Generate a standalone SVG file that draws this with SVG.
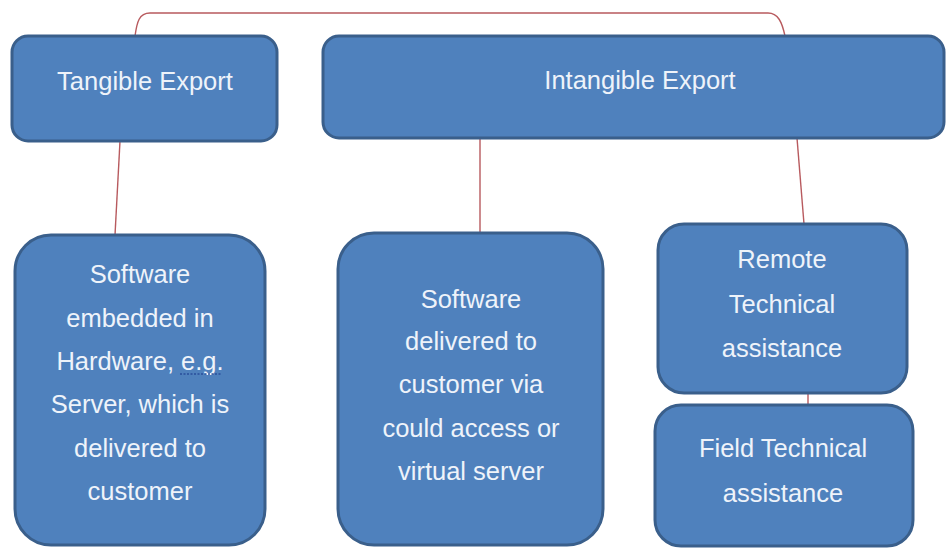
<svg xmlns="http://www.w3.org/2000/svg" width="946" height="548" viewBox="0 0 946 548">
  <style>
    .box { fill: #4f81bd; stroke: #3a5f8b; stroke-width: 3; }
    .lbl { font-family: "Liberation Sans", Arial, sans-serif; font-size: 25.5px; fill: #eef3fa; text-anchor: middle; }
    .link { fill: none; stroke: #b85a5e; stroke-width: 1.4; }
  </style>
  <rect width="946" height="548" fill="#ffffff"/>

  <g id="connectors">
    <path class="link" d="M135,36 C137,22 139,13 150,13 L768,13 C778,13 782,22 785,36"/>
    <path class="link" d="M120,141 L115,235"/>
    <path class="link" d="M480,138 L480,233"/>
    <path class="link" d="M797,138 L804,224"/>
    <path class="link" d="M808,393 L808,405"/>
  </g>

  <g id="tangible">
    <rect class="box" x="12" y="36" width="265" height="105" rx="16"/>
    <text class="lbl" x="145" y="90">Tangible Export</text>
  </g>

  <g id="intangible">
    <rect class="box" x="323" y="36" width="621" height="102" rx="16"/>
    <text class="lbl" x="640" y="89">Intangible Export</text>
  </g>

  <g id="embedded">
    <rect class="box" x="15" y="235" width="250" height="310" rx="36"/>
    <text class="lbl" x="140" y="283">Software</text>
    <text class="lbl" x="140" y="327">embedded in</text>
    <text class="lbl" x="140" y="370">Hardware, e.g.</text>
    <text class="lbl" x="140" y="413">Server, which is</text>
    <text class="lbl" x="140" y="457">delivered to</text>
    <text class="lbl" x="140" y="500">customer</text>
    <!-- dotted proofing mark under "e.g." -->
    <line x1="180" y1="374" x2="222" y2="374" stroke="#2a4f9a" stroke-width="1.4" stroke-dasharray="2 1.5"/>
  </g>

  <g id="cloud">
    <rect class="box" x="338" y="233" width="265" height="312" rx="36"/>
    <text class="lbl" x="471" y="308">Software</text>
    <text class="lbl" x="471" y="350">delivered to</text>
    <text class="lbl" x="471" y="393">customer via</text>
    <text class="lbl" x="471" y="437">could access or</text>
    <text class="lbl" x="471" y="480">virtual server</text>
  </g>

  <g id="remote">
    <rect class="box" x="658" y="224" width="249" height="169" rx="26"/>
    <text class="lbl" x="782" y="268">Remote</text>
    <text class="lbl" x="782" y="313">Technical</text>
    <text class="lbl" x="782" y="357">assistance</text>
  </g>

  <g id="field">
    <rect class="box" x="655" y="405" width="258" height="141" rx="26"/>
    <text class="lbl" x="783" y="457">Field Technical</text>
    <text class="lbl" x="783" y="502">assistance</text>
  </g>
</svg>
